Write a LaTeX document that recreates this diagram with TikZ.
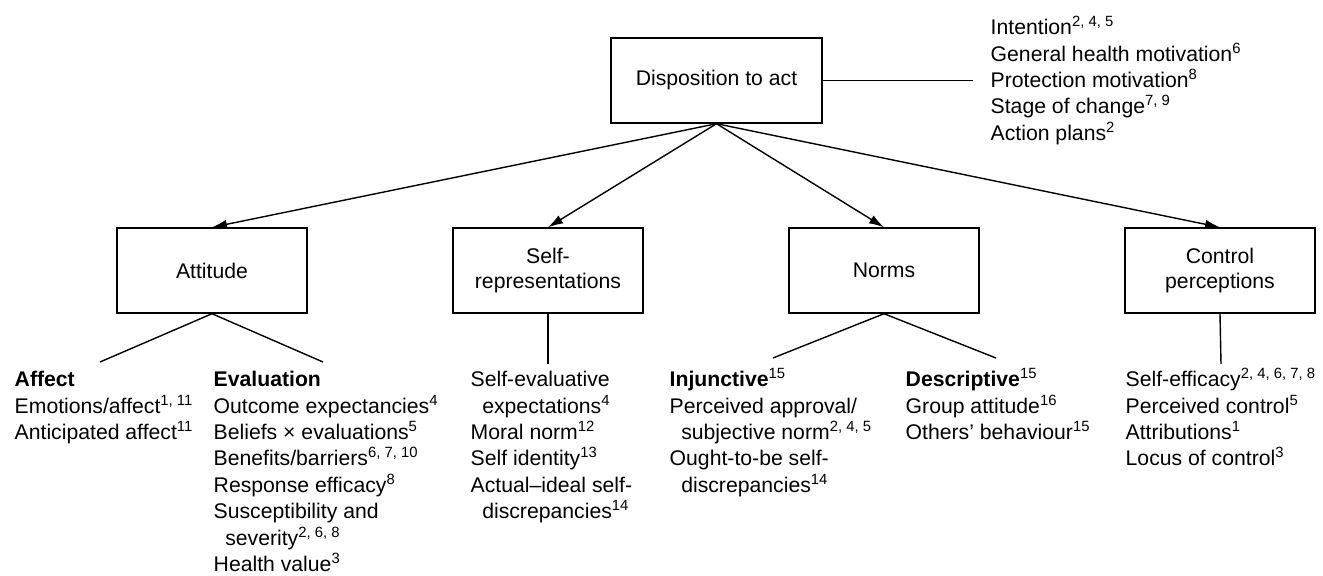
\documentclass[tikz,border=0pt]{standalone}
\usepackage{fontspec}
\setmainfont{Liberation Sans}
\usetikzlibrary{arrows.meta}
\newcommand{\tstrut}{\rule{0pt}{10pt}}
\newcommand{\sref}[1]{\textsuperscript{#1}}
\newcommand{\cont}{\hspace*{5.8pt}}

\begin{document}
\begin{tikzpicture}[x=0.5pt, y=-0.5pt, line width=0.7pt,
    >={Latex[length=7.5pt,width=4.6pt]},
    font=\fontsize{10.6}{13.2}\selectfont,
    box/.style={draw, minimum width=95pt, minimum height=42.5pt, align=center,
      inner sep=2pt, font=\fontsize{10.6}{12.4}\selectfont},
    list/.style={anchor=north west, inner sep=0pt, align=left}]
    \useasboundingbox (0,0) rectangle (1323,575);
    % boxes
    \node[box, minimum width=105.5pt] (act) at (716.5,80.5) {Disposition to act};
    \node[box] (att) at (212,270.5) {Attitude};
    \node[box] (self) at (548,270.5) {Self-\\representations};
    \node[box] (norm) at (884,270.5) {Norms};
    \node[box] (ctrl) at (1220,270.5) {Control\\perceptions};
    % ends of the plain lines
    \coordinate (mot) at (973,80.5);
    \coordinate (attL) at (100,362);
    \coordinate (attR) at (323,362);
    \coordinate (selfE) at (548,364);
    \coordinate (normL) at (773,358);
    \coordinate (normR) at (996,358);
    \coordinate (ctrlE) at (1221,364);
    % lists
    \node[list] (motlist) at (990,14) {\tstrut Intention\sref{2, 4, 5}\\General health motivation\sref{6}\\Protection motivation\sref{8}\\Stage of change\sref{7, 9}\\Action plans\sref{2}};
    \node[list] (affect) at (14,366) {\tstrut\textbf{Affect}\\Emotions/affect\sref{1, 11}\\Anticipated affect\sref{11}};
    \node[list] (eval) at (213,366) {\tstrut\textbf{Evaluation}\\Outcome expectancies\sref{4}\\Beliefs × evaluations\sref{5}\\Benefits/barriers\sref{6, 7, 10}\\Response efficacy\sref{8}\\Susceptibility and\\\cont severity\sref{2, 6, 8}\\Health value\sref{3}};
    \node[list] (selflist) at (470,366) {\tstrut Self-evaluative\\\cont expectations\sref{4}\\Moral norm\sref{12}\\Self identity\sref{13}\\Actual--ideal self-\\\cont discrepancies\sref{14}};
    \node[list] (injunct) at (669,366) {\tstrut\textbf{Injunctive}\sref{15}\\Perceived approval/\\\cont subjective norm\sref{2, 4, 5}\\Ought-to-be self-\\\cont discrepancies\sref{14}};
    \node[list] (descr) at (905,366) {\tstrut\textbf{Descriptive}\sref{15}\\Group attitude\sref{16}\\Others’ behaviour\sref{15}};
    \node[list] (ctrllist) at (1125,366) {\tstrut Self-efficacy\sref{2, 4, 6, 7, 8}\\Perceived control\sref{5}\\Attributions\sref{1}\\Locus of control\sref{3}};
    % connectors
    \foreach \b in {att,self,norm,ctrl}
        \draw[->] (act.south) -- (\b.north);
    \draw (act.east) -- (mot);
    \draw (attL) -- (att.south) -- (attR);
    \draw (self.south) -- (selfE);
    \draw (normL) -- (norm.south) -- (normR);
    \draw (ctrl.south) -- (ctrlE);
\end{tikzpicture}
\end{document}
